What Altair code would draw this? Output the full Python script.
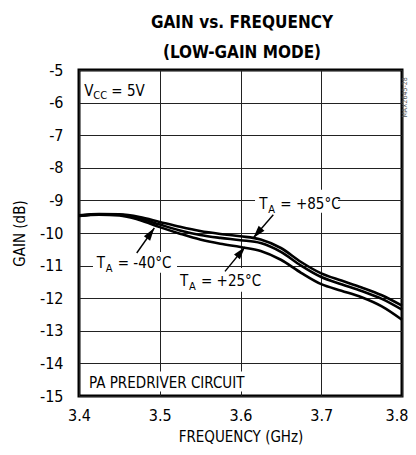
import altair as alt
import pandas as pd

FONT = "DejaVu Sans Condensed, Liberation Sans Narrow, sans-serif"

# ---- data ----
freq = [3.40, 3.425, 3.45, 3.475, 3.50, 3.525, 3.55, 3.575, 3.60, 3.625,
        3.65, 3.675, 3.70, 3.725, 3.75, 3.775, 3.80]
gain_p85 = [-9.46, -9.42, -9.43, -9.51, -9.66, -9.81, -9.94, -10.03, -10.10, -10.20,
            -10.46, -10.89, -11.24, -11.46, -11.67, -11.91, -12.23]
gain_m40 = [-9.47, -9.43, -9.44, -9.55, -9.74, -9.92, -10.06, -10.15, -10.22, -10.31,
            -10.58, -11.00, -11.35, -11.57, -11.78, -12.02, -12.35]
gain_p25 = [-9.48, -9.44, -9.46, -9.60, -9.82, -10.02, -10.20, -10.33, -10.43, -10.55,
            -10.82, -11.22, -11.57, -11.77, -11.97, -12.25, -12.66]

x_ticks = [3.4, 3.5, 3.6, 3.7, 3.8]
y_ticks = [-15, -14, -13, -12, -11, -10, -9, -8, -7, -6, -5]

title_lines = ["GAIN vs. FREQUENCY", "(LOW-GAIN MODE)"]

# annotation labels (T_A = ...)
lab_x = [3.4219, 3.5251, 3.6233]
lab_y = [-11.074, -11.617, -9.255]
lab_rest = ["= -40°C", "= +25°C", "= +85°C"]
# white boxes behind labels
box_x1 = [3.4173, 3.5201, 3.6180, 3.4087]
box_x2 = [3.5214, 3.6204, 3.7208, 3.6093]
box_y1 = [-10.58, -11.07, -8.67, -14.25]
box_y2 = [-11.22, -11.80, -9.38, -14.86]
# arrows: start -> tip
arr_x1 = [3.4715, 3.5808, 3.6406]
arr_y1 = [-10.613, -11.178, -9.439]
arr_x2 = [3.4933, 3.6056, 3.6158]
arr_y2 = [-9.847, -10.429, -10.153]
arr_angle = [35.1, 39.3, 220.6]

# ---- tables ----
curves = pd.DataFrame({
    "f": freq * 3,
    "g": gain_m40 + gain_p85 + gain_p25,
    "s": ["-40"] * len(freq) + ["+85"] * len(freq) + ["+25"] * len(freq),
})
labels = pd.DataFrame({"f": lab_x, "g": lab_y, "rest": lab_rest})
boxes = pd.DataFrame({"f": box_x1, "f2": box_x2, "g": box_y1, "g2": box_y2})
arrows = pd.DataFrame({"f": arr_x1, "g": arr_y1, "f2": arr_x2, "g2": arr_y2})
heads = pd.DataFrame({"f": arr_x2, "g": arr_y2, "a": arr_angle})
vcc = pd.DataFrame({"f": [3.4066], "g": [-5.80]})
pa = pd.DataFrame({"f": [3.4124], "g": [-14.76], "t": ["PA PREDRIVER CIRCUIT"]})
code = pd.DataFrame({"f": [3.8043], "g": [-6.46], "t": ["MAX2645-28"]})
ttl = pd.DataFrame({"t": title_lines})

xs = alt.Scale(domain=[3.4, 3.8], nice=False, zero=False)
ys = alt.Scale(domain=[-15, -5], nice=False, zero=False)
xaxis = alt.Axis(
    values=x_ticks, format=".1f", title="FREQUENCY (GHz)",
    labelAlign=alt.condition("datum.value >= 3.79", alt.value("right"), alt.value("center")),
    labelOffset=alt.condition("datum.value >= 3.79", alt.value(6), alt.value(0)),
)
yaxis = alt.Axis(values=y_ticks, labelExpr="'' + datum.value", title="GAIN (dB)")
X = alt.X("f:Q", scale=xs, axis=xaxis)
Y = alt.Y("g:Q", scale=ys, axis=yaxis)

bg = alt.Chart(boxes).mark_rect(color="white").encode(x=X, x2="f2:Q", y=Y, y2="g2:Q")

lines = alt.Chart(curves).mark_line(color="black", strokeWidth=2.6, interpolate="monotone").encode(
    x=X, y=Y, detail="s:N")

shafts = alt.Chart(arrows).mark_rule(color="black", strokeWidth=1.4).encode(
    x=X, y=Y, x2="f2:Q", y2="g2:Q")

arrowheads = alt.Chart(heads).mark_point(
    shape="M0,0L-0.3,1L0.3,1Z", filled=True, color="black", opacity=1, size=650, strokeWidth=0
).encode(x=X, y=Y, angle=alt.Angle("a:Q", scale=None))

t_main = alt.Chart(labels).mark_text(text="T", align="left", baseline="alphabetic",
                                     font=FONT, fontSize=15, color="black").encode(x=X, y=Y)
t_sub = alt.Chart(labels).mark_text(text="A", align="left", baseline="alphabetic", dx=9, dy=4,
                                    font=FONT, fontSize=11, color="black").encode(x=X, y=Y)
t_rest = alt.Chart(labels).mark_text(align="left", baseline="alphabetic", dx=21,
                                     font=FONT, fontSize=15, color="black").encode(x=X, y=Y, text="rest:N")

v_main = alt.Chart(vcc).mark_text(text="V", align="left", baseline="alphabetic",
                                  font=FONT, fontSize=15, color="black").encode(x=X, y=Y)
v_sub = alt.Chart(vcc).mark_text(text="CC", align="left", baseline="alphabetic", dx=9, dy=3,
                                 font=FONT, fontSize=11, color="black").encode(x=X, y=Y)
v_rest = alt.Chart(vcc).mark_text(text="= 5V", align="left", baseline="alphabetic", dx=27,
                                  font=FONT, fontSize=15, color="black").encode(x=X, y=Y)

pa_txt = alt.Chart(pa).mark_text(align="left", baseline="alphabetic", font=FONT, fontSize=15,
                                 color="black").encode(x=X, y=Y, text="t:N")
code_txt = alt.Chart(code).mark_text(align="left", baseline="middle", angle=270, font=FONT,
                                     fontSize=7, color="#555555").encode(x=X, y=Y, text="t:N")

# chart title drawn as two text lines above the plot
title1 = alt.Chart(ttl).transform_filter(alt.datum.t == title_lines[0]).mark_text(
    align="center", baseline="alphabetic", font=FONT, fontSize=17, fontWeight="bold", color="black"
).encode(x=alt.value(163), y=alt.value(-42), text="t:N")
title2 = alt.Chart(ttl).transform_filter(alt.datum.t == title_lines[1]).mark_text(
    align="center", baseline="alphabetic", font=FONT, fontSize=17, fontWeight="bold", color="black"
).encode(x=alt.value(163), y=alt.value(-12), text="t:N")

chart = alt.layer(
    bg, lines, shafts, arrowheads, t_main, t_sub, t_rest, v_main, v_sub, v_rest, pa_txt, code_txt,
    title1, title2
).properties(
    width=323,
    height=326,
    autosize=alt.AutoSizeParams(type="none"),
    padding={"left": 71, "top": 62, "right": 6, "bottom": 50},
).configure_view(
    stroke="black", strokeWidth=3
).configure_axis(
    grid=True, gridColor="#222222", gridWidth=1, gridOpacity=1,
    domain=False, ticks=False, labelFlush=False,
    labelFont=FONT, labelFontSize=16, labelColor="black",
    titleFont=FONT, titleFontSize=15, titleFontWeight="normal", titleColor="black",
).configure_axisX(
    labelPadding=11, titlePadding=6
).configure_axisY(
    labelPadding=16, titlePadding=12
)

chart.save("out.html", embed_options={"renderer": "svg", "actions": False})
